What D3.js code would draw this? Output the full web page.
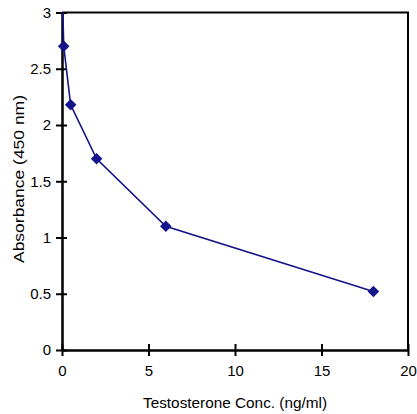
<!DOCTYPE html>
<html>
<head>
<meta charset="utf-8">
<script src="https://cdn.jsdelivr.net/npm/d3@7"></script>
<style>
  body { margin: 0; background: #fff; }
  text { font-family: "Liberation Sans", Arial, sans-serif; }
</style>
</head>
<body>
<div id="chart"></div>
<script>
// Standards: concentration (ng/ml) vs absorbance at 450 nm
var conc = [0, 0.1, 0.5, 2, 6, 18];
var absorbance = [3.3, 2.7, 2.18, 1.7, 1.1, 0.52];
var xTicks = [0, 5, 10, 15, 20];
var yTicks = [0, 0.5, 1, 1.5, 2, 2.5, 3];

const W = 417, H = 414;
const M = { left: 62, right: 9, top: 12.5, bottom: 64 };

var svg = d3.select("#chart").append("svg").attr("width", W).attr("height", H);

var x = d3.scaleLinear().domain([0, 20]).range([M.left, W - M.right]);
var y = d3.scaleLinear().domain([0, 3]).range([H - M.bottom, M.top]);

svg.append("defs").append("clipPath").attr("id", "clip")
  .append("rect")
  .attr("x", M.left).attr("y", M.top)
  .attr("width", x(20) - M.left).attr("height", y(0) - M.top);

// Frame (top and right)
svg.append("path")
  .attr("d", "M" + x(0) + "," + y(3) + "H" + x(20) + "V" + y(0))
  .attr("fill", "none").attr("stroke", "#000").attr("stroke-width", 2);

// Axes with crossing ticks
var xAxis = svg.append("g").attr("transform", "translate(0," + y(0) + ")")
  .call(d3.axisBottom(x).tickValues(xTicks).tickSize(0).tickPadding(15));
xAxis.selectAll(".tick line").attr("y1", -6).attr("y2", 6)
  .attr("stroke", "#000").attr("stroke-width", 2);
xAxis.select(".domain").attr("stroke", "#000").attr("stroke-width", 2.5);
xAxis.selectAll("text").attr("font-size", 15).attr("fill", "#000");

var yAxis = svg.append("g").attr("transform", "translate(" + x(0) + ",0)")
  .call(d3.axisLeft(y).tickValues(yTicks).tickSize(0).tickPadding(11)
    .tickFormat(d3.format("")));
yAxis.selectAll(".tick line").attr("x1", -6).attr("x2", 5)
  .attr("stroke", "#000").attr("stroke-width", 2);
yAxis.select(".domain").attr("stroke", "#000").attr("stroke-width", 2.5);
yAxis.selectAll("text").attr("font-size", 15).attr("fill", "#000");

// Axis titles
svg.append("text")
  .attr("x", (x(0) + x(20)) / 2).attr("y", 408)
  .attr("text-anchor", "middle").attr("font-size", 15)
  .attr("textLength", 184).attr("lengthAdjust", "spacingAndGlyphs")
  .text("Testosterone Conc. (ng/ml)");

svg.append("text")
  .attr("transform", "translate(24," + 179 + ") rotate(-90)")
  .attr("text-anchor", "middle").attr("font-size", 15)
  .attr("textLength", 168).attr("lengthAdjust", "spacingAndGlyphs")
  .text("Absorbance (450 nm)");

// Series
var pts = conc.map((c, i) => [c, absorbance[i]]);

svg.append("g").attr("clip-path", "url(#clip)")
  .append("path")
  .datum(pts)
  .attr("d", d3.line().x((d) => x(d[0])).y((d) => y(d[1])))
  .attr("fill", "none").attr("stroke", "#14148a").attr("stroke-width", 1.6);

svg.append("g")
  .selectAll(".pt")
  .data(pts)
  .enter()
  .append("path")
  .attr("class", "pt")
  .attr("d", d3.symbol().type(d3.symbolDiamond2).size(85))
  .attr("transform", (d) => "translate(" + x(d[0]) + "," + y(d[1]) + ")")
  .attr("fill", "#14148a");
</script>
</body>
</html>
